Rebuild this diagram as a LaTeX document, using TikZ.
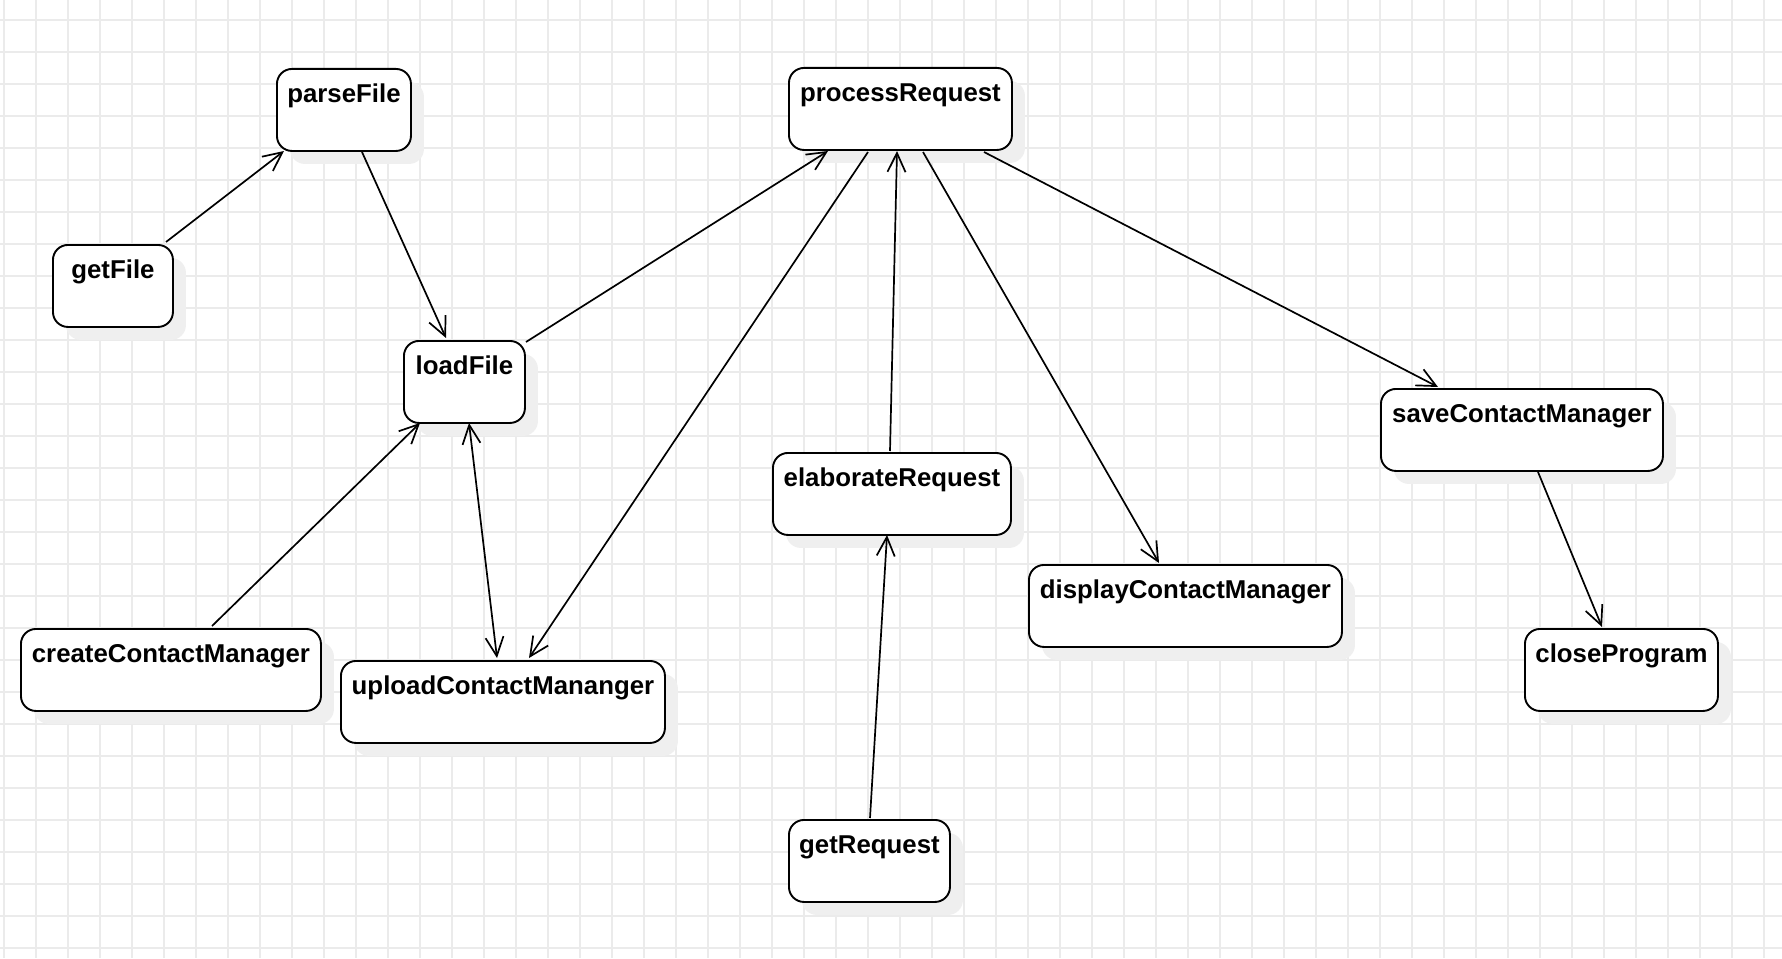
\documentclass[tikz,border=0pt]{standalone}
\usepackage{fontspec}
\setmainfont{Liberation Sans}
\usetikzlibrary{arrows.meta,shadows,calc}
\definecolor{gridc}{HTML}{EBEBEB}
\definecolor{shadowc}{HTML}{EFEFEF}
\tikzset{
  gridline/.style={draw=gridc, line width=1.3pt},
  statebox/.style={draw=black, line width=1.9pt, fill=white, rounded corners=15pt,
    anchor=north west, inner sep=0pt, minimum height=82pt,
    text height=20pt, text depth=34pt, align=center,
    font=\fontsize{25.8}{30}\selectfont\bfseries,
    general shadow={fill=shadowc, shadow xshift=13pt, shadow yshift=-13pt}},
  flow/.style={draw=black, line width=1.7pt,
    -{Straight Barb[length=19pt,width=18pt,line width=1.7pt]}},
  flowboth/.style={draw=black, line width=1.7pt,
    {Straight Barb[length=19pt,width=18pt,line width=1.7pt]}-{Straight Barb[length=19pt,width=18pt,line width=1.7pt]}}
}
\begin{document}
\begin{tikzpicture}[x=1pt,y=-1pt]
\useasboundingbox (0,0) rectangle (1782,958);
\fill[white] (0,0) rectangle (1782,958);
\foreach \i in {0,...,55} \draw[gridline] ({4+32*\i},0) -- ({4+32*\i},958);
\foreach \j in {0,...,29} \draw[gridline] (0,{20+32*\j}) -- (1782,{20+32*\j});

\node[statebox, minimum width=120pt] (gf) at (52,244) {getFile};
\node[statebox, minimum width=134pt] (pf) at (276,68) {parseFile};
\node[statebox, minimum width=121pt] (lf) at (403,340) {loadFile};
\node[statebox, minimum width=300pt] (cc) at (20,628) {createContactManager};
\node[statebox, minimum width=324pt] (up) at (340,660) {uploadContactMananger};
\node[statebox, minimum width=223pt] (pr) at (788,67) {processRequest};
\node[statebox, minimum width=238pt] (el) at (772,452) {elaborateRequest};
\node[statebox, minimum width=161pt] (gr) at (788,819) {getRequest};
\node[statebox, minimum width=313pt] (dp) at (1028,564) {displayContactManager};
\node[statebox, minimum width=282pt] (sv) at (1380,388) {saveContactManager};
\node[statebox, minimum width=193pt] (cl) at (1524,628) {closeProgram};

\draw[flow] ($(gf.north west)+(114,-2)$) -- ($(pf.north west)+(8,83)$);
\draw[flow] ($(pf.north west)+(86,84)$) -- ($(lf.north west)+(43,-2)$);
\draw[flow] ($(lf.north west)+(123,2)$) -- ($(pr.north west)+(40,84)$);
\draw[flow] ($(pr.north west)+(80,85)$) -- ($(up.north west)+(189,-2)$);
\draw[flow] ($(el.north west)+(118,-1)$) -- ($(pr.north west)+(109,84)$);
\draw[flow] ($(gr.north west)+(82,-1)$) -- ($(el.north west)+(115,83)$);
\draw[flow] ($(pr.north west)+(135,85)$) -- ($(dp.north west)+(131,-1)$);
\draw[flow] ($(pr.north west)+(196,85)$) -- ($(sv.north west)+(58,-1)$);
\draw[flow] ($(sv.north west)+(158,84)$) -- ($(cl.north west)+(78,-1)$);
\draw[flow] ($(cc.north west)+(192,-2)$) -- ($(lf.north west)+(17,83)$);
\draw[flowboth] ($(lf.north west)+(66,83)$) -- ($(up.north west)+(157,-2)$);
\end{tikzpicture}
\end{document}
